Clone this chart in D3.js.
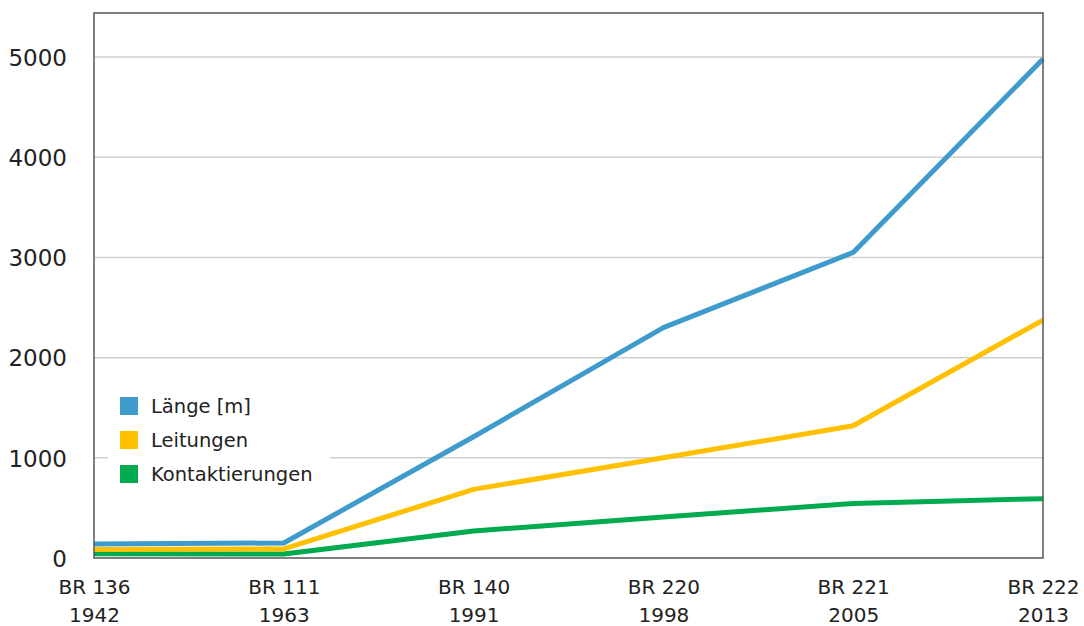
<!DOCTYPE html>
<html>
<head>
<meta charset="utf-8">
<script src="https://cdn.jsdelivr.net/npm/d3@7/dist/d3.min.js"></script>
<style>
  html, body { margin: 0; padding: 0; background: #fff; }
  svg { display: block; font-family: "DejaVu Sans", sans-serif; }
</style>
</head>
<body>
<svg id="chart" width="1084" height="626"></svg>
<script>
// Baureihen (model series) and their production years
const models = ["BR 136", "BR 111", "BR 140", "BR 220", "BR 221", "BR 222"];
const years = ["1942", "1963", "1991", "1998", "2005", "2013"];

// Wiring harness figures per model
const laenge = [140, 150, 1210, 2300, 3050, 4980];
const leitungen = [85, 90, 685, 1000, 1320, 2375];
const kontaktierungen = [42, 40, 270, 410, 545, 592];

const yTicks = [0, 1000, 2000, 3000, 4000, 5000];

const series = [
  { name: "Länge [m]", values: laenge, color: "#3f9bcb" },
  { name: "Leitungen", values: leitungen, color: "#ffc000" },
  { name: "Kontaktierungen", values: kontaktierungen, color: "#00aa4f" }
];

const svg = d3.select("#chart");
const plotLeft = 94, plotRight = 1043, plotTop = 13, plotBottom = 558;

const x = d3.scalePoint().domain(models).range([plotLeft, plotRight]);
const y = d3.scaleLinear().domain([0, 5440]).range([plotBottom, plotTop]);

// Horizontal gridlines
svg.append("g")
  .selectAll("line")
  .data(yTicks.filter(d => d > 0))
  .join("line")
  .attr("x1", plotLeft).attr("x2", plotRight)
  .attr("y1", d => y(d)).attr("y2", d => y(d))
  .attr("stroke", "#cfcfcf")
  .attr("stroke-width", 1.5);

// Y axis labels
const yAxis = svg.append("g")
  .attr("transform", `translate(${plotLeft},0)`)
  .call(d3.axisLeft(y).tickValues(yTicks).tickSize(0).tickPadding(27).tickFormat(d3.format("d")));
yAxis.select(".domain").remove();
yAxis.selectAll("text")
  .attr("font-size", 23)
  .attr("font-family", "DejaVu Sans, sans-serif")
  .attr("fill", "#222")
  .attr("dy", "0.36em");

// X axis labels: model name and year on two lines
const xAxis = svg.append("g")
  .attr("transform", `translate(0,${plotBottom})`)
  .call(d3.axisBottom(x).tickSize(0).tickFormat(""));
xAxis.select(".domain").remove();
xAxis.selectAll(".tick").each(function (d, i) {
  const t = d3.select(this).append("text")
    .attr("text-anchor", "middle")
    .attr("font-size", 20)
    .attr("font-family", "DejaVu Sans, sans-serif")
    .attr("fill", "#222");
  t.append("tspan").attr("x", 0).attr("y", 36).text(models[i]);
  t.append("tspan").attr("x", 0).attr("y", 64).text(years[i]);
});

// Legend background (covers the gridline behind it)
svg.append("rect")
  .attr("x", 108).attr("y", 388)
  .attr("width", 222).attr("height", 104)
  .attr("fill", "#fff");

// Series lines, drawn so that Länge ends on top
const line = d3.line()
  .x((d, i) => x(models[i]))
  .y(d => y(d));

svg.append("g")
  .selectAll("path")
  .data(series.slice().reverse())
  .join("path")
  .attr("d", d => line(d.values))
  .attr("fill", "none")
  .attr("stroke", d => d.color)
  .attr("stroke-width", 5)
  .attr("stroke-linejoin", "round");

// Plot frame
svg.append("rect")
  .attr("x", plotLeft).attr("y", plotTop)
  .attr("width", plotRight - plotLeft).attr("height", plotBottom - plotTop)
  .attr("fill", "none")
  .attr("stroke", "#555")
  .attr("stroke-width", 1.5);

// Legend
const legend = svg.append("g")
  .selectAll("g")
  .data(series)
  .join("g")
  .attr("transform", (d, i) => `translate(120,${406 + i * 34})`);
legend.append("rect")
  .attr("x", 0).attr("y", -9)
  .attr("width", 18).attr("height", 18)
  .attr("fill", d => d.color);
legend.append("text")
  .attr("x", 31).attr("y", 0)
  .attr("dy", "0.36em")
  .attr("font-size", 19.5)
  .attr("fill", "#222")
  .text(d => d.name);
</script>
</body>
</html>
